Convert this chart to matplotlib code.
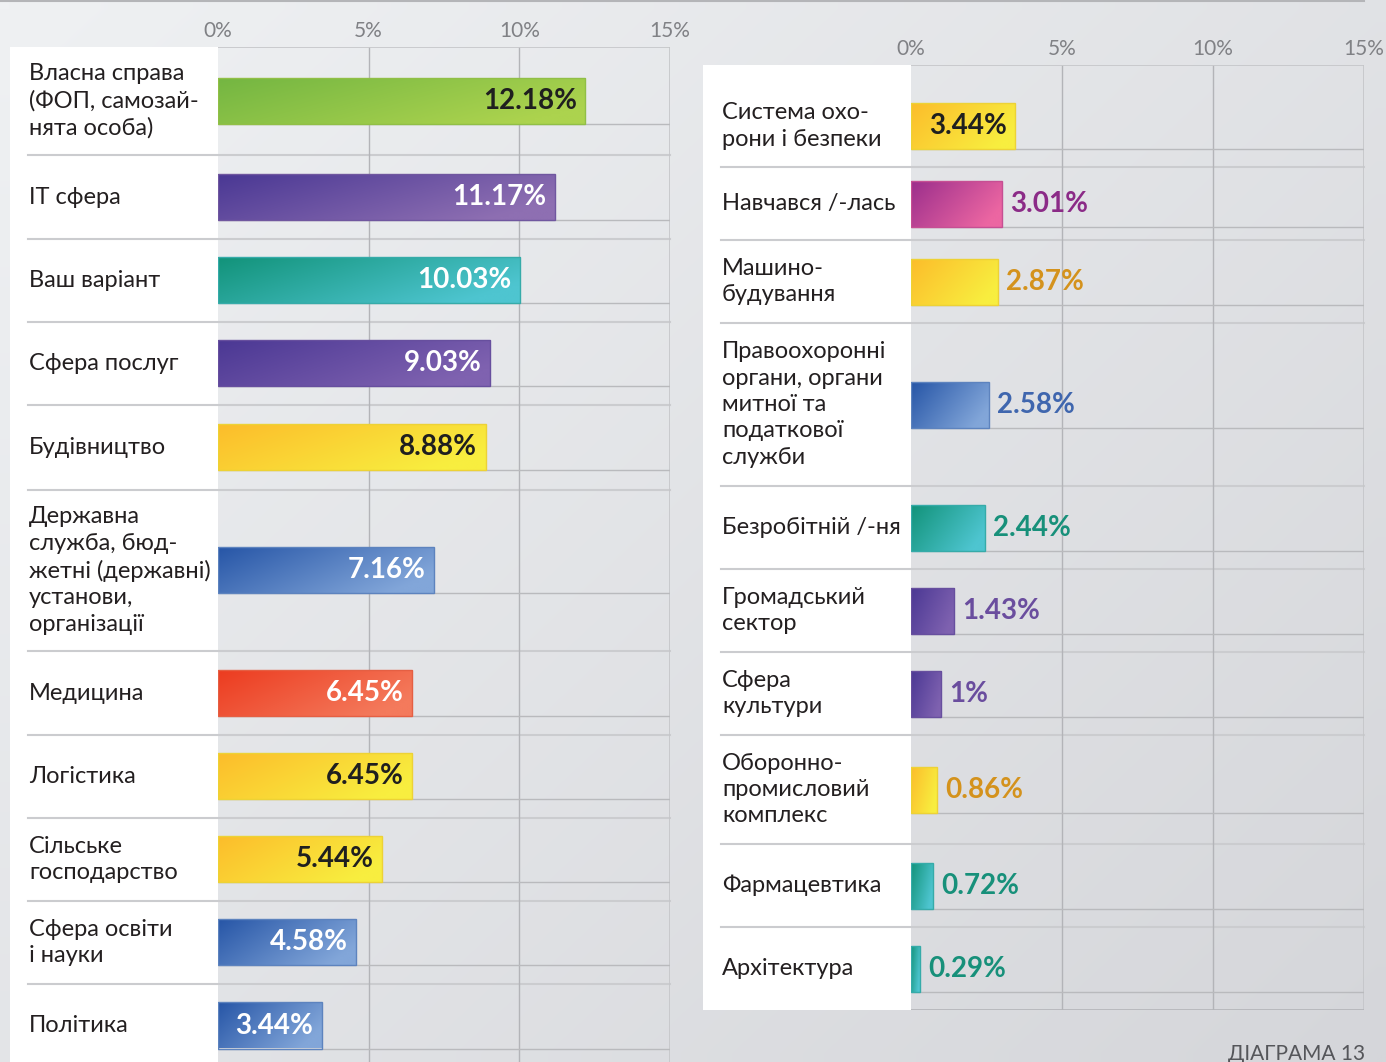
import numpy as np
import matplotlib
matplotlib.use('Agg')
import matplotlib.pyplot as plt
from matplotlib.colors import to_rgb
from matplotlib.patches import Rectangle

plt.rcParams['font.family'] = ['Lato', 'Noto Sans', 'DejaVu Sans']

# ---- data -----------------------------------------------------------
left_labels = ['Власна справа\n(ФОП, самозай-\nнята особа)', 'ІТ сфера', 'Ваш варіант',
               'Сфера послуг', 'Будівництво',
               'Державна\nслужба, бюд-\nжетні (державні)\nустанови,\nорганізації',
               'Медицина', 'Логістика', 'Сільське\nгосподарство', 'Сфера освіти\nі науки',
               'Політика']
left_values = [12.18, 11.17, 10.03, 9.03, 8.88, 7.16, 6.45, 6.45, 5.44, 4.58, 3.44]
left_kinds = ['green', 'violet', 'teal', 'purple', 'yellow', 'blue', 'red', 'yellow',
              'yellow', 'blue', 'blue']

right_labels = ['Система охо-\nрони і безпеки', 'Навчався /-лась', 'Машино-\nбудування',
                'Правоохоронні\nоргани, органи\nмитної та\nподаткової\nслужби',
                'Безробітній /-ня', 'Громадський\nсектор', 'Сфера\nкультури',
                'Оборонно-\nпромисловий\nкомплекс', 'Фармацевтика', 'Архітектура']
right_values = [3.44, 3.01, 2.87, 2.58, 2.44, 1.43, 1, 0.86, 0.72, 0.29]
right_kinds = ['yellow', 'pink', 'yellow', 'blue', 'teal', 'purple', 'purple', 'yellow',
               'teal', 'teal']

ticks = [0, 5, 10, 15]
ticklabels = ['0%', '5%', '10%', '15%']
caption = 'ДІАГРАМА 13'

# ---- styles ---------------------------------------------------------
# kind: (gradient start, gradient end, label colour inside, label colour outside)
palette = {
    'green':  ('#74b642', '#acd34e', '#1f1f1f', '#5f9a2e'),
    'violet': ('#4a3894', '#8e6fb2', 'white', '#6a4d9e'),
    'purple': ('#4b3894', '#7f62b0', 'white', '#6a4d9e'),
    'teal':   ('#12937a', '#4ec5d0', 'white', '#17907a'),
    'yellow': ('#fcbd2b', '#f8ee3f', '#1f1f1f', '#d4921c'),
    'blue':   ('#2756a7', '#82a6d9', 'white', '#3f66ae'),
    'red':    ('#ec3c20', '#f47a5c', 'white', '#e0452a'),
    'pink':   ('#9c2f8c', '#ec66a2', 'white', '#8b2b87'),
}

W, H = 1386, 1062
fig = plt.figure(figsize=(W / 100, H / 100), dpi=100)

# background axes in pixel coordinates
bg = fig.add_axes([0, 0, 1, 1], zorder=0)
bg.set_xlim(0, W)
bg.set_ylim(H, 0)
bg.axis('off')
yy, xx = np.mgrid[0:1:60j, 0:1:80j]
t = 0.55 * xx + 0.45 * yy
c_a, c_b = np.array(to_rgb('#eff1f3')), np.array(to_rgb('#d5d6da'))
bg.imshow(c_a + t[..., None] * (c_b - c_a), extent=(0, W, H, 0), aspect='auto',
          interpolation='bilinear', zorder=0)
bg.plot([0, 1364], [1, 1], color='#b4b5b8', lw=1.5, zorder=1)

LBL_FS = 17
VAL_FS = 20


def gradient_bar(ax, yc, v, kind, h=46):
    c0, c1 = np.array(to_rgb(palette[kind][0])), np.array(to_rgb(palette[kind][1]))
    gy, gx = np.mgrid[0:1:20j, 0:1:120j]
    g = np.clip(0.8 * gx + 0.35 * gy, 0, 1)
    img = c0 + g[..., None] * (c1 - c0)
    ax.imshow(img, extent=(0, v, yc + h / 2, yc - h / 2), aspect='auto',
              interpolation='bilinear', zorder=3)
    edge = c0 * 0.35 + c1 * 0.65
    ax.add_patch(Rectangle((0, yc - h / 2), v, h, fill=False, ec=edge * 0.95, lw=1,
                           zorder=4))


def panel(labels, values, kinds, x_white, x_plot, x_right, top, pad, heights, bottom):
    total = pad + sum(heights)
    ax = fig.add_axes([x_plot / W, 1 - (top + total) / H, (x_right - x_plot) / W, total / H],
                      zorder=2)
    ax.patch.set_alpha(0)
    ax.set_xlim(0, 15)
    ax.set_ylim(total, 0)
    for s in ax.spines.values():
        s.set_visible(False)

    # white label column
    bg.add_patch(Rectangle((x_white, top), x_plot - x_white, bottom - top, fc='white',
                           ec='none', zorder=2))

    ax.xaxis.set_ticks_position('top')
    ax.set_xticks(ticks)
    ax.set_xticklabels(ticklabels)
    ax.tick_params(axis='x', length=0, pad=4, labelsize=15, labelcolor='#808185')
    ax.set_yticks([])

    grid_bottom = bottom - top
    ax.vlines([5, 10], 0, grid_bottom, color='#b3b4b8', lw=1, zorder=1)
    ax.vlines([15], 0, grid_bottom, color='#c4c5c8', lw=1.2, zorder=1)
    ax.hlines([0], 0, 15, color='#c4c5c8', lw=1.2, zorder=1)
    if bottom - top >= total:
        ax.hlines([grid_bottom], 0, 15, color='#b3b4b8', lw=1.2, zorder=1)

    y0 = pad
    px_per_unit = (x_right - x_plot) / 15
    for i, (lab, v, kind, h) in enumerate(zip(labels, values, kinds, heights)):
        yc = y0 + h / 2
        gradient_bar(ax, yc, v, kind)
        ax.hlines([yc + 23], 0, 15, color='#b9babd', lw=1, zorder=1)
        txt = f'{v:g}%'
        if v * px_per_unit > 100:
            ax.annotate(txt, (v, yc), xytext=(-6, 0), textcoords='offset points',
                        ha='right', va='center', fontsize=VAL_FS, fontweight='bold',
                        color=palette[kind][2], zorder=5)
        else:
            ax.annotate(txt, (v, yc), xytext=(6, 0), textcoords='offset points',
                        ha='left', va='center', fontsize=VAL_FS, fontweight='bold',
                        color=palette[kind][3], zorder=5)
        bg.text(x_white + 19, top + yc, lab, ha='left', va='center', fontsize=LBL_FS,
                color='#231f20', linespacing=1.32, zorder=3)
        y0 += h
        if i < len(labels) - 1:
            bg.plot([x_white + 18, x_right], [top + y0, top + y0], color='#cbcccf', lw=1.5,
                    zorder=3)
    return ax


panel(left_labels, left_values, left_kinds, 10, 218, 670, 47, 0,
      [108, 84, 83, 83, 85, 161, 84, 83, 83, 83, 83], H + 10)
panel(right_labels, right_values, right_kinds, 703, 911, 1364, 65, 20,
      [82, 73, 83, 163, 83, 83, 83, 109, 83, 83], 1010)

bg.text(1365, 1044, caption, ha='right', va='top', fontsize=15,
        color='#55565a', zorder=3)

fig.savefig('out.png', dpi=100)
